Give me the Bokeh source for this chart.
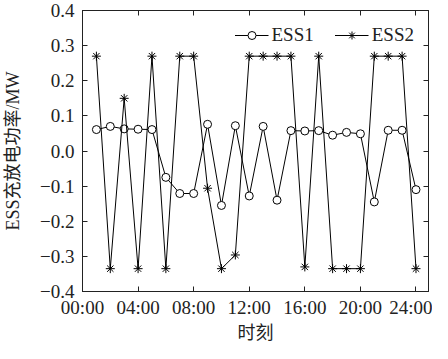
from bokeh.plotting import figure
from bokeh.models import LinearAxis, FixedTicker, Range1d, Title
from bokeh.embed import file_html
from bokeh.resources import INLINE

hours = list(range(1, 25))
ess1 = [0.061, 0.070, 0.063, 0.062, 0.061, -0.075, -0.121, -0.121, 0.076, -0.155,
        0.072, -0.128, 0.070, -0.140, 0.058, 0.057, 0.058, 0.045, 0.053, 0.049,
        -0.145, 0.059, 0.059, -0.110]
ess2 = [0.27, -0.335, 0.15, -0.335, 0.27, -0.335, 0.27, 0.27, -0.106, -0.335,
        -0.296, 0.27, 0.27, 0.27, 0.27, -0.330, 0.27, -0.335, -0.335, -0.335,
        0.27, 0.27, 0.27, -0.335]

x_ticks = [0, 4, 8, 12, 16, 20, 24]
x_labels = ["00:00", "04:00", "08:00", "12:00", "16:00", "20:00", "24:00"]
y_ticks = [-0.4, -0.3, -0.2, -0.1, 0.0, 0.1, 0.2, 0.3, 0.4]
y_labels = ["\u22120.4", "\u22120.3", "\u22120.2", "\u22120.1", "0.0", "0.1", "0.2", "0.3", "0.4"]
x_title = "时刻"
y_title = "ESS充放电功率/MW"

SERIF = "Liberation Serif"
MIXED = "Liberation Serif, Noto Sans CJK SC"
FS = "19px"

xr = Range1d(0, 24.9)
yr = Range1d(-0.4, 0.4)
p = figure(width=432, height=343, output_backend="svg", toolbar_location=None,
           x_range=xr, y_range=yr,
           min_border_left=80, min_border_right=4, min_border_top=10, min_border_bottom=52,
           y_axis_label=y_title)
p.grid.visible = False
p.outline_line_color = "#222222"
p.outline_line_width = 1
p.background_fill_color = "white"
p.border_fill_color = "white"

p.line(hours, ess1, line_color="black", line_width=1, legend_label="ESS1")
p.scatter(hours, ess1, marker="circle", size=8, fill_color="white", line_color="black",
          line_width=1, legend_label="ESS1")
p.line(hours, ess2, line_color="black", line_width=1, legend_label="ESS2")
p.scatter(hours, ess2, marker="asterisk", size=9, line_color="black",
          line_width=1, legend_label="ESS2")

xa = p.xaxis[0]
xa.ticker = FixedTicker(ticks=x_ticks)
xa.major_label_overrides = {t: l for t, l in zip(x_ticks, x_labels)}
ya = p.yaxis[0]
ya.ticker = FixedTicker(ticks=y_ticks)
ya.major_label_overrides = {t: l for t, l in zip(y_ticks, y_labels)}

top = LinearAxis(ticker=FixedTicker(ticks=x_ticks), major_label_text_font_size="0px",
                 major_label_text_alpha=0)
right = LinearAxis(ticker=FixedTicker(ticks=y_ticks), major_label_text_font_size="0px",
                   major_label_text_alpha=0)
p.add_layout(top, "above")
p.add_layout(right, "right")

for ax in [xa, ya, top, right]:
    ax.major_tick_in = 5
    ax.major_tick_out = 0
    ax.minor_tick_line_color = None
    ax.axis_line_color = "#222222"
    ax.major_tick_line_color = "#222222"
    ax.major_label_text_color = "#222222"
for ax in [top, right]:
    ax.major_label_standoff = 0
for ax in [xa, ya]:
    ax.major_label_text_font = SERIF
    ax.major_label_text_font_size = FS
    ax.axis_label_text_font = MIXED
    ax.axis_label_text_font_size = "18px"
    ax.axis_label_text_font_style = "normal"
    ax.axis_label_text_color = "#222222"
xa.major_label_standoff = 5
ya.major_label_standoff = 8
ya.axis_label_standoff = 14

# x-axis title below the tick labels
p.add_layout(Title(text=x_title, align="center", standoff=0, offset=0,
                   text_font=MIXED, text_font_size="18px", text_font_style="normal",
                   text_color="#222222"), "below")

lg = p.legend[0]
lg.location = "top_right"
lg.orientation = "horizontal"
lg.border_line_color = None
lg.background_fill_alpha = 0
lg.label_text_font = SERIF
lg.label_text_font_size = FS
lg.label_text_color = "#222222"
lg.glyph_width = 34
lg.label_standoff = 3
lg.spacing = 21
lg.margin = 14
lg.padding = 5

open("out.html", "w").write(file_html(p, INLINE))
